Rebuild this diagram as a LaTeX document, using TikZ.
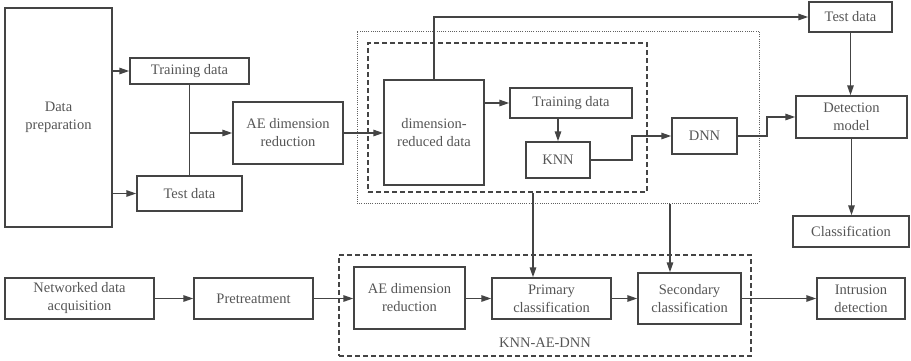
\documentclass[tikz,border=0pt]{standalone}
\usepackage{fontspec}
\setmainfont{Liberation Serif}
\usetikzlibrary{arrows.meta,calc}
\definecolor{ink}{HTML}{444444}
\definecolor{txt}{HTML}{555555}
\begin{document}
\begin{tikzpicture}[x=1pt,y=-1pt,
  box/.style={draw=ink,line width=1.5pt,rectangle,inner sep=0pt,align=center,
    text=txt,font=\fontsize{14.5}{18}\selectfont},
  link/.style={draw=ink,line width=1.5pt},
  arr/.style={link,-{Triangle[length=10pt,width=6.5pt]}},
  dotframe/.style={draw=ink!85,line width=1pt,dash pattern=on 1pt off 1.2pt,inner sep=0pt},
  dashframe/.style={draw=ink,line width=1.5pt,dash pattern=on 5pt off 3pt,inner sep=0pt}]
\useasboundingbox (0,0) rectangle (911,360);

% frames
\node[dotframe,minimum width=402pt,minimum height=172pt] (outer) at (558,117) {};
\node[dashframe,minimum width=279pt,minimum height=149pt] (inner) at (507.5,117.5) {};
\node[dashframe,minimum width=412pt,minimum height=101pt] (model) at (545,305.5) {};
\node[text=txt,font=\fontsize{14.5}{18}\selectfont] (modellabel) at (545,343) {KNN-AE-DNN};

% upper part
\node[box,minimum width=107pt,minimum height=219pt] (prep) at (58.5,117.5) {Data\\preparation};
\node[box,minimum width=119pt,minimum height=26pt] (train1) at (189.5,71) {Training data};
\node[box,minimum width=105pt,minimum height=35pt] (test1) at (189.5,193.5) {Test data};
\node[box,minimum width=110pt,minimum height=62pt] (ae1) at (288,133) {AE dimension\\reduction};
\node[box,minimum width=100pt,minimum height=105pt] (dimred) at (434,132.5) {dimension-\\reduced data};
\node[box,minimum width=122pt,minimum height=30pt] (train2) at (571,103) {Training data};
\node[box,minimum width=64pt,minimum height=36pt] (knn) at (558,160) {KNN};
\node[box,minimum width=65pt,minimum height=36pt] (dnn) at (704.5,136) {DNN};
\node[box,minimum width=83pt,minimum height=30pt] (testtop) at (850.5,17) {Test data};
\node[box,minimum width=111pt,minimum height=42pt] (detect) at (851.5,117) {Detection\\model};
\node[box,minimum width=116pt,minimum height=31pt] (classif) at (851,231.5) {Classification};

% lower part
\node[box,minimum width=149pt,minimum height=41pt] (net) at (79.5,298.5) {Networked data\\acquisition};
\node[box,minimum width=119pt,minimum height=41pt] (pre) at (253.5,298.5) {Pretreatment};
\node[box,minimum width=111pt,minimum height=62pt] (ae2) at (409.5,298) {AE dimension\\reduction};
\node[box,minimum width=119pt,minimum height=41pt] (prim) at (551.5,298.5) {Primary\\classification};
\node[box,minimum width=103pt,minimum height=51pt] (sec) at (689.5,298.5) {Secondary\\classification};
\node[box,minimum width=88pt,minimum height=41pt] (intr) at (861,298.5) {Intrusion\\detection};

% upper connectors
\draw[arr] (prep.east |- train1.west) -- (train1.west);
\draw[arr] (prep.east |- test1.west) -- (test1.west);
\draw[link] (train1.south) -- (test1.north);
\draw[arr] (train1.south |- ae1.west) -- (ae1.west);
\draw[arr] (ae1.east) -- (ae1.east -| dimred.west);
\draw[arr] (dimred.north) |- (testtop.west);
\draw[arr] (dimred.east |- train2.west) -- (train2.west);
\draw[arr] (train2.south -| knn.north) -- (knn.north);
\draw[arr] (knn.east) -- ++(41,0) |- (dnn.west);
\draw[arr] (dnn.east) -- ++(29,0) |- (detect.west);
\draw[arr] (testtop.south) -- (testtop.south |- detect.north);
\draw[arr] (detect.south) -- (detect.south |- classif.north);

% links from the frames into the model
\coordinate (pa) at ([xshift=-18.5pt]prim.north);
\coordinate (sa) at ([xshift=-19.5pt]sec.north);
\draw[arr] (inner.south -| pa) -- (pa);
\draw[arr] (outer.south -| sa) -- (sa);

% lower connectors
\draw[arr] (net.east) -- (pre.west);
\draw[arr] (pre.east) -- (pre.east -| ae2.west);
\draw[arr] (ae2.east |- prim.west) -- (prim.west);
\draw[arr] (prim.east) -- (sec.west);
\draw[arr] (sec.east) -- (intr.west);
\end{tikzpicture}
\end{document}
